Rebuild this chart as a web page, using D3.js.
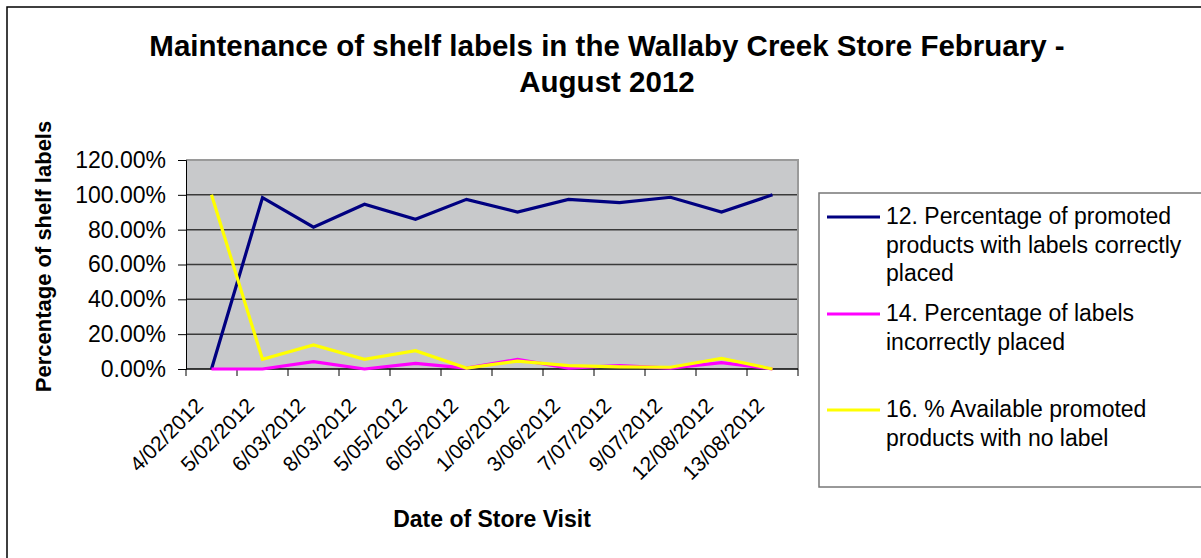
<!DOCTYPE html>
<html>
<head>
<meta charset="utf-8">
<script src="https://cdn.jsdelivr.net/npm/d3@7.9.0/dist/d3.min.js"></script>
<style>
  body { margin: 0; background: #fff; }
  svg { display: block; font-family: "Liberation Sans", Arial, Helvetica, sans-serif; }
</style>
</head>
<body>
<div id="chart"></div>
<script>
// Store visit dates (x categories)
const visitDates = ["4/02/2012", "5/02/2012", "6/03/2012", "8/03/2012", "5/05/2012", "6/05/2012",
                    "1/06/2012", "3/06/2012", "7/07/2012", "9/07/2012", "12/08/2012", "13/08/2012"];

// Series values, as fractions
const correctlyPlaced = [0, 0.984, 0.814, 0.946, 0.86, 0.974, 0.901, 0.974, 0.955, 0.986, 0.901, 1.0];
const incorrectlyPlaced = [0, 0, 0.042, 0, 0.032, 0.005, 0.055, 0.005, 0.02, 0.005, 0.036, 0];
const noLabel = [1.0, 0.056, 0.138, 0.056, 0.105, 0.005, 0.045, 0.019, 0.012, 0.01, 0.061, 0];

const seriesNames = [
    ["12. Percentage of promoted", "products with labels correctly", "placed"],
    ["14. Percentage of labels", "incorrectly placed"],
    ["16. % Available promoted", "products with no label"]
];
const seriesColors = ["#000080", "#ff00ff", "#ffff00"];
const yTicks = [0, 0.2, 0.4, 0.6, 0.8, 1.0, 1.2];

const W = 1201, H = 558;
const plot = {left: 186, right: 798, top: 160, bottom: 369};

const svg = d3.select("#chart")
    .append("svg")
    .attr("width", W)
    .attr("height", H);

// outer chart border
svg.append("rect")
    .attr("x", 7).attr("y", 7)
    .attr("width", W).attr("height", H)
    .attr("fill", "none")
    .attr("stroke", "#000")
    .attr("stroke-width", 1.5);

// Title
const title = svg.append("text")
    .attr("text-anchor", "middle")
    .attr("font-size", "29.5px")
    .attr("font-weight", "bold");
title.append("tspan").attr("x", 607).attr("y", 56)
    .text("Maintenance of shelf labels in the Wallaby Creek Store February -");
title.append("tspan").attr("x", 607).attr("y", 92)
    .text("August 2012");

// Scales
const x = d3.scaleBand()
    .domain(visitDates)
    .range([plot.left, plot.right]);

const y = d3.scaleLinear()
    .domain([0, 1.2])
    .range([plot.bottom, plot.top]);

// plot background
svg.append("rect")
    .attr("x", plot.left).attr("y", plot.top)
    .attr("width", plot.right - plot.left)
    .attr("height", plot.bottom - plot.top)
    .attr("fill", "#c8c9cb");

// gridlines
svg.append("g")
    .selectAll("line")
    .data(yTicks.slice(1, -1))
    .enter().append("line")
    .attr("x1", plot.left).attr("x2", plot.right)
    .attr("y1", d => y(d)).attr("y2", d => y(d))
    .attr("stroke", "#3a3a3a")
    .attr("stroke-width", 1.5);

// plot frame top and right
svg.append("path")
    .attr("d", `M${plot.left},${plot.top}H${plot.right}V${plot.bottom}`)
    .attr("fill", "none")
    .attr("stroke", "#9a9a9a")
    .attr("stroke-width", 2);

// Y axis
const yAxis = svg.append("g")
    .attr("transform", `translate(${plot.left},0)`)
    .call(d3.axisLeft(y).tickValues(yTicks).tickFormat(d3.format(".2%")).tickSizeOuter(0).tickSize(8).tickPadding(12));
yAxis.selectAll("text").attr("font-size", "23px").attr("fill", "#000").attr("font-family", null);
yAxis.selectAll("line, path").attr("stroke", "#000");

// X axis: ticks on category boundaries
const xAxis = svg.append("g")
    .attr("transform", `translate(0,${plot.bottom})`);
xAxis.append("line")
    .attr("x1", plot.left).attr("x2", plot.right)
    .attr("stroke", "#000").attr("stroke-width", 1.5);
xAxis.selectAll(".tick")
    .data(visitDates.concat([null]))
    .enter().append("line")
    .attr("class", "tick")
    .attr("x1", (d, i) => plot.left + i * x.step())
    .attr("x2", (d, i) => plot.left + i * x.step())
    .attr("y1", 0).attr("y2", 7)
    .attr("stroke", "#000");
xAxis.selectAll(".lbl")
    .data(visitDates)
    .enter().append("text")
    .attr("class", "lbl")
    .attr("transform", d => `translate(${x(d) + x.bandwidth() / 2 - 7},${38}) rotate(-45)`)
    .attr("text-anchor", "end")
    .attr("font-size", "21px")
    .text(d => d);

// Axis titles
svg.append("text")
    .attr("transform", `translate(51,${(plot.top + plot.bottom) / 2 - 8}) rotate(-90)`)
    .attr("text-anchor", "middle")
    .attr("font-size", "22px")
    .attr("font-weight", "bold")
    .text("Percentage of shelf labels");

svg.append("text")
    .attr("x", 492)
    .attr("y", 527)
    .attr("text-anchor", "middle")
    .attr("font-size", "23px")
    .attr("font-weight", "bold")
    .text("Date of Store Visit");

// Lines
const line = d3.line()
    .x((d, i) => x(visitDates[i]) + x.bandwidth() / 2)
    .y(d => y(d));

[correctlyPlaced, incorrectlyPlaced, noLabel].forEach((vals, i) => {
    svg.append("path")
        .datum(vals)
        .attr("d", line)
        .attr("fill", "none")
        .attr("stroke", seriesColors[i])
        .attr("stroke-width", 3.2)
        .attr("stroke-linejoin", "miter");
});

// Legend
const legend = svg.append("g");
legend.append("rect")
    .attr("x", 819).attr("y", 193)
    .attr("width", 400).attr("height", 294)
    .attr("fill", "#fff")
    .attr("stroke", "#777")
    .attr("stroke-width", 1.5);

const legendY = [217, 314, 410];
seriesNames.forEach((lines, i) => {
    legend.append("line")
        .attr("x1", 827).attr("x2", 880)
        .attr("y1", legendY[i]).attr("y2", legendY[i])
        .attr("stroke", seriesColors[i])
        .attr("stroke-width", 3);
    const t = legend.append("text")
        .attr("font-size", "23px");
    lines.forEach((s, j) => {
        t.append("tspan")
            .attr("x", 886)
            .attr("y", legendY[i] + 7 + j * 28.5)
            .text(s);
    });
});
</script>
</body>
</html>
